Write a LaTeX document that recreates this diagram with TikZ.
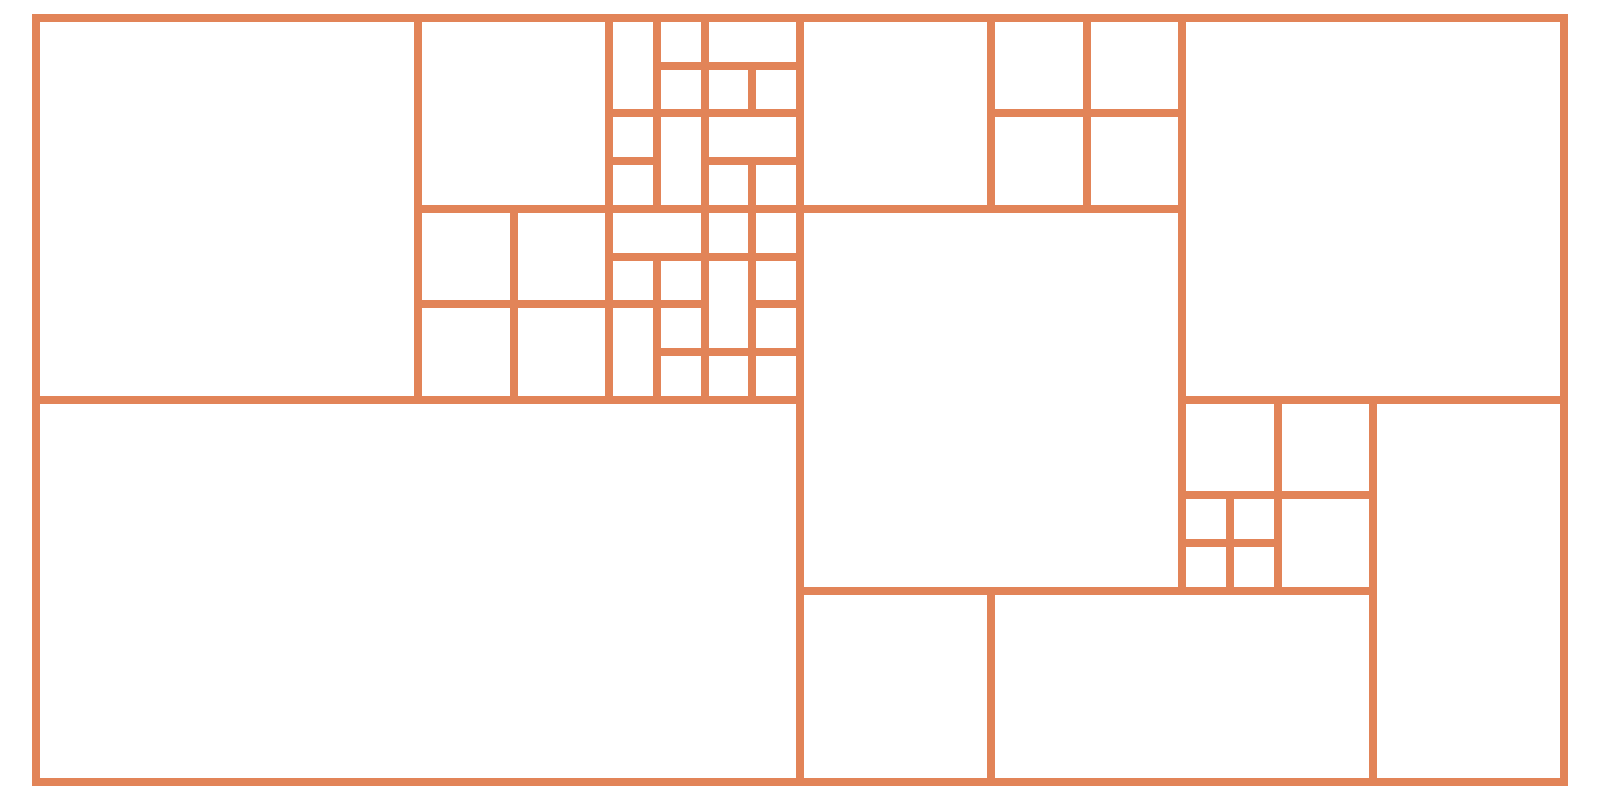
\documentclass[tikz,border=0pt]{standalone}
\definecolor{gridorange}{RGB}{226,132,88}
\tikzset{cell/.style={draw=gridorange, line width=0.08cm, line join=miter}}
\begin{document}
\begin{tikzpicture}
\useasboundingbox (0,0) rectangle (16,8);
\begin{scope}[shift={(0.36,7.82)}, x=0.4775cm, y=-0.4775cm]
\foreach \a/\b/\c/\d in {
  0/0/8/8, 8/0/12/4,
  8/4/10/6, 10/4/12/6, 8/6/10/8, 10/6/12/8,
  12/0/13/2, 13/0/14/1, 14/0/16/1, 13/1/14/2, 14/1/15/2, 15/1/16/2,
  12/2/13/3, 12/3/13/4, 13/2/14/4, 14/2/16/3, 14/3/15/4, 15/3/16/4,
  12/4/14/5, 14/4/15/5, 15/4/16/5, 12/5/13/6, 13/5/14/6, 12/6/13/8,
  13/6/14/7, 13/7/14/8, 14/5/15/7, 14/7/15/8, 15/5/16/6, 15/6/16/7, 15/7/16/8,
  0/8/16/16,
  16/0/20/4, 20/0/22/2, 22/0/24/2, 20/2/22/4, 22/2/24/4, 24/0/32/8,
  16/4/24/12,
  24/8/26/10, 26/8/28/10, 24/10/25/11, 25/10/26/11, 24/11/25/12, 25/11/26/12,
  26/10/28/12, 28/8/32/16, 16/12/20/16, 20/12/28/16}
  \draw[cell] (\a,\b) rectangle (\c,\d);
\end{scope}
\end{tikzpicture}
\end{document}
